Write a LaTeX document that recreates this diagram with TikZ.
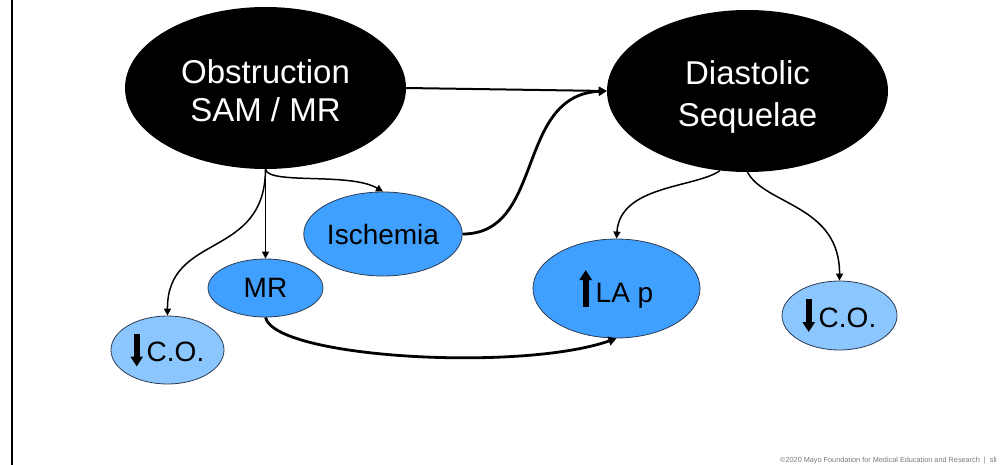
\documentclass[tikz,border=0pt]{standalone}
\usepackage{fontspec}
\setmainfont{Liberation Sans}
\usetikzlibrary{shapes.geometric,arrows.meta}

\definecolor{midblue}{RGB}{64,160,255}
\definecolor{paleblue}{RGB}{140,198,255}
\definecolor{rimblue}{RGB}{45,60,85}
\definecolor{footgray}{RGB}{120,120,120}

% bold up / down arrows set inline with the text
\newcommand{\uparw}{\tikz[baseline=0pt]\draw[line width=6pt,-{Triangle[width=12pt,length=10pt]}] (0pt,-5pt) -- (0pt,32pt);}
\newcommand{\dnarw}{\tikz[baseline=0pt]\draw[line width=6pt,-{Triangle[width=12pt,length=10pt]}] (0pt,28pt) -- (0pt,-5pt);}

\begin{document}
\begin{tikzpicture}[x=1pt,y=-1pt,
  bigell/.style={ellipse, fill=black, text=white, inner sep=0pt,
    minimum width=281pt, minimum height=162pt, align=center},
  smallell/.style={ellipse, draw=rimblue, line width=0.8pt, inner sep=0pt,
    font=\fontsize{28}{32}\selectfont},
  midell/.style={smallell, fill=midblue},
  paleell/.style={smallell, fill=paleblue},
  link/.style={line width=1.5pt, -{Triangle[width=7pt,length=7pt]}},
  boldlink/.style={line width=2.8pt, -{Triangle[width=9pt,length=8pt]}},
  mainlink/.style={line width=2pt, -{Triangle[width=8pt,length=8pt]}}]

\useasboundingbox (0,0) rectangle (1001,464);

% frame line on the left
\draw[line width=2pt] (12,-2) coordinate (ftop) -- (12,466) coordinate (fbot);

% main nodes (struts on the first line lower the text block a little)
\node[bigell, font=\fontsize{33}{38}\selectfont] (obs) at (265.5,88)
  {\rule{0pt}{30pt}Obstruction\\SAM / MR};
\node[bigell, font=\fontsize{33}{42}\selectfont] (dia) at (747.5,91)
  {\rule{0pt}{36pt}Diastolic\\Sequelae};

% secondary nodes
\node[midell, minimum width=158pt, minimum height=84pt] (isch) at (383,234) {Ischemia};
\node[midell, minimum width=115pt, minimum height=58pt] (mr) at (265.5,288) {MR};
\node[paleell, minimum width=113pt, minimum height=68pt] (col) at (167.5,350) {\dnarw\hspace{4pt}C.O.};
\node[midell, minimum width=167pt, minimum height=99pt] (lap) at (616.5,288.5) {\uparw\hspace{4pt}LA p};
\node[paleell, minimum width=115pt, minimum height=69pt] (cor) at (839.5,315.5) {\dnarw\hspace{4pt}C.O.};

% connectors
\draw[mainlink] (obs.east) -- (dia.west);
\draw[boldlink] (isch.east) .. controls (545,234) and (515,95) .. (dia.west);
\draw[link] (obs.south) .. controls (268,185) and (350,172) .. (isch.north);
\draw[link] (obs.south) -- (mr.north);
\draw[link] (obs.south) .. controls (265,260) and (167,232) .. (col.north);
\draw[boldlink] (mr.south) .. controls (275,358) and (520,372) .. (lap.south);
\draw[link] (dia.-109) .. controls (695,188) and (620,185) .. (lap.north);
\draw[link] (dia.south) .. controls (765,205) and (840,205) .. (cor.north);

% footer
\node[anchor=west, inner sep=0pt, text=footgray, font=\fontsize{7.3}{8}\selectfont] (foot) at (780,461)
  {©2020 Mayo Foundation for Medical Education and Research \ | \ sli};
\end{tikzpicture}
\end{document}
